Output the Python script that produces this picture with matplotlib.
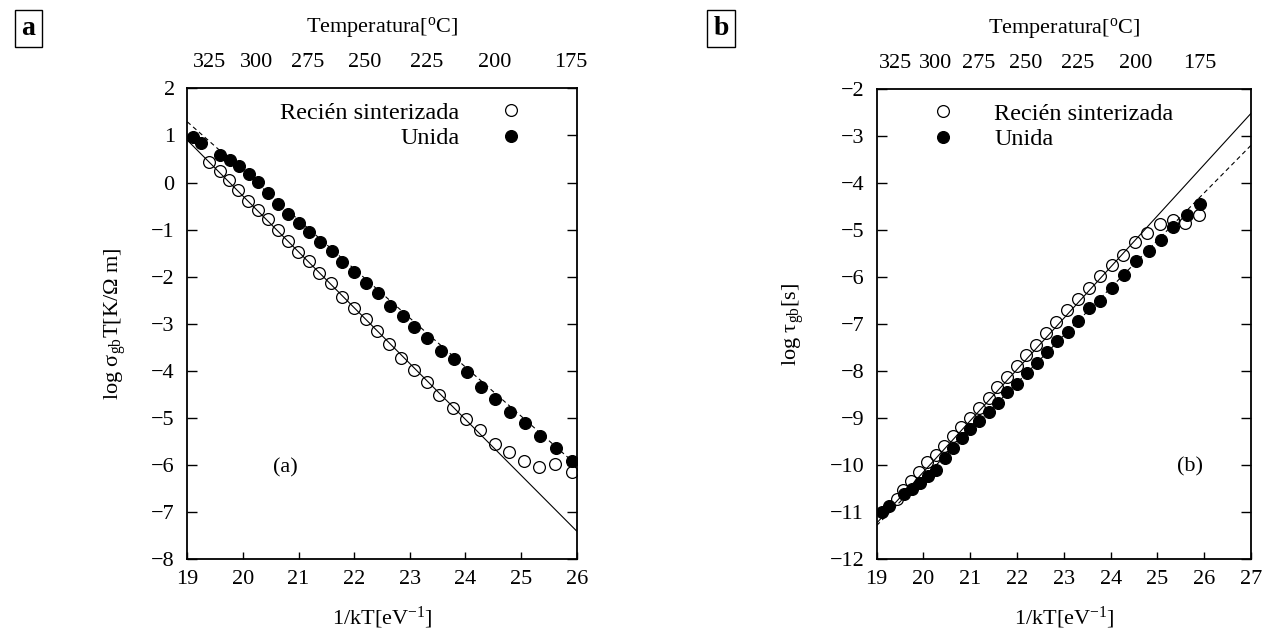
import numpy as np
import matplotlib
matplotlib.use("Agg")
import matplotlib.pyplot as plt

plt.rcParams['font.family'] = ['Liberation Serif', 'DejaVu Serif']
plt.rcParams['mathtext.fontset'] = 'custom'
plt.rcParams['mathtext.rm'] = 'Liberation Serif'
plt.rcParams['mathtext.it'] = 'Liberation Serif:italic'
plt.rcParams['font.size'] = 16

# ---- data, panel a: log(sigma_gb T) vs 1/kT ----
a_open_x = [19.40, 19.58, 19.75, 19.92, 20.10, 20.28, 20.45, 20.63, 20.81, 20.99,
            21.18, 21.37, 21.58, 21.79, 21.99, 22.21, 22.41, 22.63, 22.84, 23.08,
            23.31, 23.53, 23.77, 24.01, 24.26, 24.53, 24.79, 25.06, 25.33, 25.61, 25.91]
a_open_y = [0.44, 0.25, 0.05, -0.16, -0.39, -0.58, -0.78, -1.01, -1.24, -1.47,
            -1.67, -1.92, -2.14, -2.44, -2.67, -2.90, -3.15, -3.43, -3.72, -3.99,
            -4.24, -4.51, -4.78, -5.02, -5.26, -5.55, -5.73, -5.91, -6.03, -5.98, -6.14]
a_full_x = [19.10, 19.25, 19.58, 19.76, 19.93, 20.11, 20.28, 20.45, 20.63, 20.81,
            21.00, 21.19, 21.39, 21.60, 21.79, 21.99, 22.21, 22.42, 22.65, 22.87,
            23.08, 23.31, 23.56, 23.80, 24.03, 24.28, 24.53, 24.80, 25.07, 25.34, 25.63, 25.92]
a_full_y = [0.97, 0.83, 0.58, 0.48, 0.35, 0.18, 0.02, -0.23, -0.46, -0.67,
            -0.85, -1.06, -1.26, -1.45, -1.68, -1.90, -2.13, -2.35, -2.62, -2.84,
            -3.07, -3.30, -3.57, -3.75, -4.02, -4.35, -4.60, -4.87, -5.10, -5.38, -5.63, -5.91]
a_fit_open_x = [19, 26]
a_fit_open_y = [0.90, -7.40]
a_fit_full_x = [19, 26]
a_fit_full_y = [1.29, -6.00]

# ---- data, panel b: log(tau_gb) vs 1/kT ----
b_open_x = [19.43, 19.57, 19.73, 19.90, 20.08, 20.26, 20.44, 20.62, 20.80, 20.99,
            21.19, 21.39, 21.58, 21.78, 21.99, 22.20, 22.41, 22.62, 22.84, 23.07,
            23.31, 23.54, 23.77, 24.02, 24.27, 24.52, 24.77, 25.06, 25.33, 25.59, 25.89]
b_open_y = [-10.72, -10.53, -10.33, -10.14, -9.94, -9.78, -9.58, -9.38, -9.18, -8.99,
            -8.79, -8.56, -8.34, -8.12, -7.89, -7.66, -7.45, -7.19, -6.95, -6.70,
            -6.47, -6.23, -5.98, -5.74, -5.53, -5.24, -5.06, -4.86, -4.77, -4.84, -4.67]
b_full_x = [19.11, 19.26, 19.58, 19.76, 19.93, 20.09, 20.26, 20.46, 20.64, 20.82,
            20.99, 21.19, 21.39, 21.59, 21.79, 21.99, 22.21, 22.42, 22.63, 22.85,
            23.08, 23.31, 23.54, 23.77, 24.03, 24.29, 24.54, 24.82, 25.08, 25.34, 25.63, 25.91]
b_full_y = [-10.99, -10.87, -10.61, -10.51, -10.38, -10.23, -10.10, -9.84, -9.63, -9.41,
            -9.23, -9.05, -8.87, -8.67, -8.45, -8.26, -8.04, -7.82, -7.58, -7.36,
            -7.16, -6.93, -6.66, -6.50, -6.22, -5.94, -5.65, -5.43, -5.21, -4.92, -4.67, -4.43]
b_fit_open_x = [19, 27]
b_fit_open_y = [-11.23, -2.51]
b_fit_full_x = [19, 27]
b_fit_full_y = [-11.28, -3.19]

temps_C = [325, 300, 275, 250, 225, 200, 175]
k_B = 8.617e-5  # eV/K


def style_axis(ax, xlim, ylim, xticks, yticks):
    ax.set_xlim(*xlim)
    ax.set_ylim(*ylim)
    ax.set_xticks(xticks)
    ax.set_yticks(yticks)
    ax.tick_params(axis='both', direction='in', top=True, right=True,
                   width=1.0, labelsize=16)
    ax.tick_params(axis='x', length=5, pad=8)
    ax.tick_params(axis='y', length=7, pad=9)
    for s in ax.spines.values():
        s.set_linewidth(1.3)
    ax.set_xlabel(r'1/kT[eV$^{-1}$]', fontsize=16)
    ax.xaxis.set_label_coords(0.5, -0.097)
    ax.xaxis.label.set_va('top')

    # top axis with temperature labels
    top = ax.twiny()
    top.set_xlim(*xlim)
    pos = [1.0 / (k_B * (t + 273.15)) for t in temps_C]
    top.set_xticks(pos)
    top.set_xticklabels([str(t) for t in temps_C])
    top.tick_params(axis='x', length=0, pad=12, labelsize=16)
    top.set_xlabel(r'Temperatura[$^{\rm o}$C]', fontsize=16, labelpad=15)
    for s in top.spines.values():
        s.set_visible(False)
    return top


fig = plt.figure(figsize=(12.66, 6.34), dpi=100)

# ---------------- panel a ----------------
ax1 = fig.add_axes([0.1479, 0.1178, 0.3076, 0.7429])
ax1.plot(a_fit_open_x, a_fit_open_y, color='black', lw=0.8)
ax1.plot(a_fit_full_x, a_fit_full_y, color='black', lw=0.8, dashes=(4, 3))
ax1.plot(a_open_x, a_open_y, 'o', ms=8.5, mfc='none', mec='black', mew=0.9,
         label='Recién sinterizada')
ax1.plot(a_full_x, a_full_y, 'o', ms=8.5, mfc='black', mec='black', mew=0.9,
         label='Unida')
style_axis(ax1, (19, 26), (-8, 2), range(19, 27), range(-8, 3))
ax1.set_ylabel(r'log σ$_{\rm gb}$T[K/Ω m]', fontsize=16)
ax1.yaxis.set_label_coords(-0.152, 0.5)
ax1.text(20.76, -6.06, '(a)', fontsize=16, ha='center', va='center')
ax1.legend(loc='upper right', bbox_to_anchor=(0.905, 1.008), markerfirst=False,
           frameon=False, fontsize=17.5, handlelength=1.0, handletextpad=1.6,
           labelspacing=0.15, borderaxespad=0.3)

# ---------------- panel b ----------------
ax2 = fig.add_axes([0.6925, 0.1178, 0.2957, 0.7413])
ax2.plot(b_fit_open_x, b_fit_open_y, color='black', lw=0.8)
ax2.plot(b_fit_full_x, b_fit_full_y, color='black', lw=0.8, dashes=(4, 3))
ax2.plot(b_open_x, b_open_y, 'o', ms=8.5, mfc='none', mec='black', mew=0.9,
         label='Recién sinterizada')
ax2.plot(b_full_x, b_full_y, 'o', ms=8.5, mfc='black', mec='black', mew=0.9,
         label='Unida')
style_axis(ax2, (19, 27), (-12, -2), range(19, 28), range(-12, -1))
ax2.set_ylabel(r'log τ$_{\rm gb}$[s]', fontsize=16)
ax2.yaxis.set_label_coords(-0.19, 0.5)
ax2.text(25.70, -10.03, '(b)', fontsize=16, ha='center', va='center')
ax2.legend(loc='upper left', bbox_to_anchor=(0.1, 1.008), frameon=False,
           fontsize=17.5, handlelength=1.0, handletextpad=1.6,
           labelspacing=0.15, borderaxespad=0.3)

# panel letters
for x, letter in [(0.0225, 'a'), (0.5695, 'b')]:
    fig.text(x, 0.955, letter, fontsize=20, fontweight='bold', ha='center', va='center',
             bbox=dict(boxstyle='square,pad=0.22', fc='white', ec='black', lw=1.0))

fig.savefig('out.png', dpi=100)
